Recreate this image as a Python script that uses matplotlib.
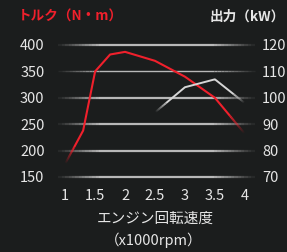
import numpy as np
import matplotlib.pyplot as plt
from matplotlib.collections import LineCollection

plt.rcParams['font.family'] = ['Noto Sans CJK JP', 'DejaVu Sans']

# data
rpm_torque = [1.0, 1.3, 1.5, 1.75, 2.0, 2.5, 3.0, 3.5, 4.0]
torque = [175, 238, 350, 382, 387, 370, 340, 300, 232]
rpm_power = [2.5, 3.0, 3.5, 4.0]
power = [94.5, 104, 107, 98]
torque_ticks = [150, 200, 250, 300, 350, 400]
power_ticks = [70, 80, 90, 100, 110, 120]
rpm_ticks = [1, 1.5, 2, 2.5, 3, 3.5, 4]
rpm_labels = ['1', '1.5', '2', '2.5', '3', '3.5', '4']

bg = '#1b1d1d'
red = '#f0202c'
txt = '#e6e6e6'


def fade_line(ax, x, y, color, lw, fade=0.12, n=40, transform=None, clip=True):
    # split the polyline into short pieces so the ends can fade out,
    # the fully opaque middle is drawn as one plain line
    xs, ys = [], []
    for i in range(len(x) - 1):
        t = np.linspace(0, 1, n, endpoint=False)
        xs.append(x[i] + (x[i+1]-x[i])*t)
        ys.append(y[i] + (y[i+1]-y[i])*t)
    xs.append([x[-1]]); ys.append([y[-1]])
    xs = np.concatenate(xs); ys = np.concatenate(ys)
    pts = np.column_stack([xs, ys]).reshape(-1, 1, 2)
    segs = np.concatenate([pts[:-1], pts[1:]], axis=1)
    f = np.linspace(0, 1, len(segs))
    a = np.clip(np.minimum(f, 1-f)/fade, 0, 1)
    full = a >= 1
    rgba = np.zeros((len(segs), 4))
    rgba[:, :3] = plt.matplotlib.colors.to_rgb(color)
    rgba[:, 3] = a
    lc = LineCollection(segs[~full], colors=rgba[~full], linewidths=lw,
                        capstyle='butt')
    kw = {}
    if transform is not None:
        lc.set_transform(transform)
        kw['transform'] = transform
    lc.set_clip_on(clip)
    ax.add_collection(lc)
    idx = np.where(full)[0]
    if len(idx):
        i0, i1 = idx[0], idx[-1] + 1
        ax.plot(xs[i0:i1+1], ys[i0:i1+1], color=color, lw=lw,
                solid_capstyle='butt', clip_on=clip, **kw)


fig = plt.figure(figsize=(2.87, 2.52), dpi=100, facecolor=bg)
ax = fig.add_axes([55/287, 75/252, 203/287, 132/252])
ax.set_facecolor(bg)
ax.set_xlim(0.83, 4.22)
ax.set_ylim(150, 400)
ax2 = ax.twinx()
ax2.set_ylim(70, 120)

for s in list(ax.spines.values()) + list(ax2.spines.values()):
    s.set_visible(False)

# gradient grid lines
tr = ax.get_yaxis_transform()
for v in torque_ticks:
    lw = 1.0 if v == 350 else 1.6
    fade_line(ax, [0, 1], [v, v], '#b8b8b8', lw, fade=0.22, n=60,
              transform=tr, clip=False)

fade_line(ax, rpm_torque, torque, red, 1.5, fade=0.06)
fade_line(ax2, rpm_power, power, '#d6d6d6', 1.4, fade=0.12)

ax.set_xticks(rpm_ticks)
ax.set_xticklabels(rpm_labels)
ax.set_yticks(torque_ticks)
ax2.set_yticks(power_ticks)
ax.tick_params(axis='both', length=0, colors=txt, labelsize=10.5)
ax.tick_params(axis='y', pad=7.5)
ax.tick_params(axis='x', pad=8.5)
ax2.tick_params(axis='y', length=0, colors=txt, labelsize=10.5, pad=3)

fig.text(18/287, 1-17/252, 'トルク（N・m）', color=red, fontsize=9.8,
         fontweight='bold', ha='left', va='center')
fig.text(285/287, 1-17/252, '出力（kW）', color=txt, fontsize=9.8,
         fontweight='bold', ha='right', va='center')
fig.text(155/287, 1-219/252, 'エンジン回転速度', color=txt, fontsize=10.5,
         ha='center', va='center')
fig.text(154/287, 1-240/252, '（x1000rpm）', color=txt, fontsize=10.5,
         ha='center', va='center')

fig.savefig('out.png', dpi=100, facecolor=bg)
